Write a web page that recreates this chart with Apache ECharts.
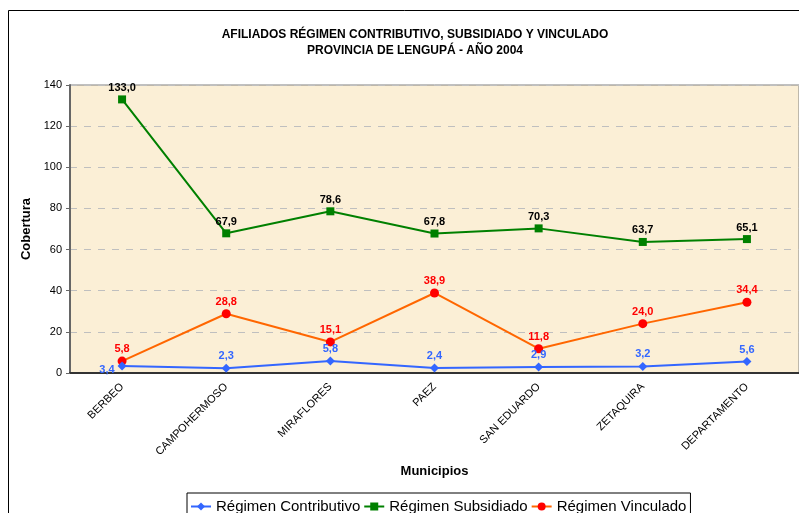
<!DOCTYPE html>
<html>
<head>
<meta charset="utf-8">
<script src="https://cdn.jsdelivr.net/npm/echarts@6/dist/echarts.min.js"></script>
<style>
html, body { margin: 0; padding: 0; background: #fff; }
#container { width: 799px; height: 513px; }
</style>
</head>
<body>
<div id="container"></div>
<script>
var municipios = ['BERBEO', 'CAMPOHERMOSO', 'MIRAFLORES', 'PAEZ', 'SAN EDUARDO', 'ZETAQUIRA', 'DEPARTAMENTO'];
var contributivo = [3.4, 2.3, 5.8, 2.4, 2.9, 3.2, 5.6];
var subsidiado = [133.0, 67.9, 78.6, 67.8, 70.3, 63.7, 65.1];
var vinculado = [5.8, 28.8, 15.1, 38.9, 11.8, 24.0, 34.4];

var dom = document.getElementById('container');
var myChart = echarts.init(dom);

function coma(p) {
    return p.value.toFixed(1).replace('.', ',');
}

var option = {
    animation: false,
    textStyle: { fontFamily: 'Arial, "Liberation Sans", sans-serif' },
    title: {
        text: 'AFILIADOS RÉGIMEN CONTRIBUTIVO, SUBSIDIADO Y VINCULADO\nPROVINCIA DE LENGUPÁ - AÑO 2004',
        left: 410,
        top: 22,
        textAlign: 'center',
        textStyle: { fontSize: 12, fontWeight: 'bold', color: '#000', lineHeight: 16 }
    },
    graphic: [{
        type: 'rect',
        shape: { x: 8.5, y: 10.5, width: 900, height: 700 },
        style: { fill: 'none', stroke: '#000', lineWidth: 1 },
        z: 0
    }],
    legend: {
        left: 187,
        top: 493,
        padding: [6, 4, 6, 3],
        itemGap: 3,
        itemWidth: 20,
        itemHeight: 10,
        borderColor: '#000',
        borderWidth: 1,
        backgroundColor: '#fff',
        textStyle: { fontSize: 15, color: '#000' }
    },
    grid: {
        left: 70,
        top: 85,
        width: 734,
        height: 288,
        show: true,
        backgroundColor: '#FBEFD6',
        borderColor: '#808080',
        borderWidth: 1
    },
    xAxis: {
        type: 'category',
        data: municipios,
        name: 'Municipios',
        nameLocation: 'middle',
        nameGap: 88,
        nameTextStyle: { fontSize: 13, fontWeight: 'bold', color: '#000' },
        axisLine: { lineStyle: { color: '#333', width: 2 } },
        axisTick: { length: 5, lineStyle: { color: '#333' } },
        axisLabel: { rotate: 45, fontSize: 11, color: '#000', margin: 12 }
    },
    yAxis: {
        type: 'value',
        min: 0,
        max: 140,
        interval: 20,
        name: 'Cobertura',
        nameLocation: 'middle',
        nameGap: 33,
        nameTextStyle: { fontSize: 13, fontWeight: 'bold', color: '#000' },
        axisLine: { show: true, lineStyle: { color: '#666', width: 2 } },
        axisTick: { show: true, length: 4, lineStyle: { color: '#666' } },
        axisLabel: { fontSize: 11, color: '#000', margin: 8 },
        splitLine: { lineStyle: { color: '#BFBFBF', type: [7, 7] } }
    },
    series: [{
        name: 'Régimen Contributivo',
        type: 'line',
        data: contributivo.map(function (v, i) {
            if (i === 0) {
                return { value: v, label: { position: 'left', distance: 3, offset: [0, 4] } };
            }
            return v;
        }),
        symbol: 'diamond',
        symbolSize: 9,
        color: '#3366FF',
        lineStyle: { color: '#3366FF', width: 2 },
        itemStyle: { color: '#3366FF' },
        label: { show: true, position: 'top', distance: 2, fontSize: 11, fontWeight: 'bold', color: '#3366FF', formatter: coma },
        z: 3
    }, {
        name: 'Régimen Subsidiado',
        type: 'line',
        data: subsidiado,
        symbol: 'rect',
        symbolSize: 8,
        color: '#008000',
        lineStyle: { color: '#008000', width: 2 },
        itemStyle: { color: '#008000' },
        label: { show: true, position: 'top', distance: 2, fontSize: 11, fontWeight: 'bold', color: '#000', formatter: coma },
        z: 2
    }, {
        name: 'Régimen Vinculado',
        type: 'line',
        data: vinculado,
        symbol: 'circle',
        symbolSize: 9,
        color: '#FF0000',
        lineStyle: { color: '#FF6600', width: 2 },
        itemStyle: { color: '#FF0000' },
        label: { show: true, position: 'top', distance: 2, fontSize: 11, fontWeight: 'bold', color: '#FF0000', formatter: coma },
        z: 2
    }]
};

myChart.setOption(option);
</script>
</body>
</html>
